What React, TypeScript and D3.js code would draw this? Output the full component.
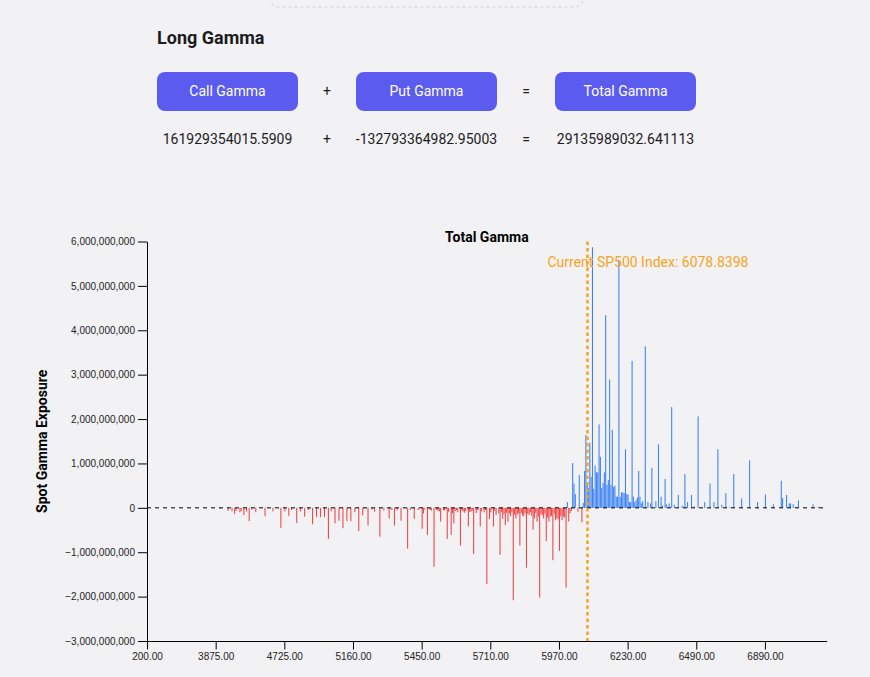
import React, { useEffect, useRef } from "react";
import * as d3 from "d3";

// strikes of the option chain, as [from, to, step] runs
const strikeRuns: [number, number, number][] = [
  [200, 3000, 200],
  [3100, 3650, 50],
  [3750, 3875, 5],
  [3900, 4600, 25],
  [4610, 4620, 10],
  [4625, 4725, 5],
  [4735, 5075, 10],
  [5080, 5160, 5],
  [5170, 5220, 10],
  [5225, 6490, 5],
  [6495, 6610, 5],
  [6620, 6890, 10],
  [6900, 7100, 10],
  [7125, 7500, 25],
  [7600, 8400, 100],
];

const xTickStrikes = [200, 3875, 4725, 5160, 5450, 5710, 5970, 6230, 6490, 6890];

// net gamma per strike, in billions
const putSideGamma: [number, number][] = [
  [3950, -0.02], [4100, -0.07], [4175, -0.08], [4225, -0.14], [4250, -0.07],
  [4325, -0.1], [4350, -0.07], [4400, -0.16], [4450, -0.08], [4500, -0.3],
  [4550, -0.04], [4610, -0.1], [4650, -0.19], [4680, -0.08], [4710, -0.45],
  [4725, -0.08], [4755, -0.18], [4775, -0.05], [4815, -0.34], [4845, -0.08],
  [4875, -0.2], [4905, -0.05], [4935, -0.37], [4965, -0.2], [4995, -0.21],
  [5025, -0.21], [5055, -0.7], [5075, -0.08], [5090, -0.35], [5105, -0.29],
  [5120, -0.46], [5135, -0.3], [5150, -0.3], [5170, -0.1], [5200, -0.52],
  [5225, -0.17], [5245, -0.4], [5260, -0.04], [5270, -0.09], [5290, -0.65],
  [5305, -0.06], [5325, -0.24], [5335, -0.05], [5345, -0.4], [5355, -0.06],
  [5370, -0.29], [5395, -0.92], [5405, -0.05], [5420, -0.25], [5435, -0.05],
  [5450, -0.47], [5455, -0.13], [5460, -0.04], [5470, -0.61], [5480, -0.05],
  [5485, -0.06], [5495, -1.33], [5505, -0.05], [5510, -0.07], [5515, -0.08],
  [5520, -0.31], [5530, -0.05], [5535, -0.06], [5545, -0.7], [5550, -0.09],
  [5560, -0.61], [5565, -0.12], [5570, -0.35], [5575, -0.07], [5580, -0.05],
  [5585, -0.1], [5595, -0.85], [5600, -0.06], [5605, -0.08], [5610, -0.11],
  [5615, -0.07], [5625, -0.42], [5630, -0.09], [5635, -0.09], [5640, -0.06],
  [5645, -1.04], [5655, -0.12], [5660, -0.05], [5670, -0.42], [5675, -0.08],
  [5685, -0.1], [5690, -0.05], [5695, -1.72], [5705, -0.25], [5710, -0.1],
  [5720, -0.42], [5725, -0.07], [5730, -0.16], [5740, -0.12], [5745, -1.06],
  [5750, -0.09], [5755, -0.25], [5760, -0.14], [5765, -0.39], [5770, -0.11],
  [5775, -0.31], [5780, -0.13], [5785, -0.19], [5790, -0.1], [5795, -2.08],
  [5800, -0.15], [5805, -0.24], [5810, -0.16], [5815, -0.12], [5820, -0.85],
  [5825, -0.12], [5830, -0.17], [5835, -0.19], [5840, -0.11], [5845, -1.35],
  [5850, -0.14], [5855, -0.16], [5860, -0.1], [5865, -0.18], [5870, -0.49],
  [5875, -0.24], [5880, -0.12], [5885, -0.31], [5890, -0.2], [5895, -2.02],
  [5900, -0.15], [5905, -0.16], [5910, -0.24], [5915, -0.13], [5920, -0.75],
  [5925, -0.22], [5930, -0.31], [5935, -0.2], [5940, -0.18], [5945, -1.18],
  [5950, -0.14], [5955, -0.28], [5960, -0.24], [5965, -0.26], [5970, -0.97],
  [5975, -0.19], [5980, -0.28], [5985, -0.2], [5990, -0.22], [5995, -1.8],
  [6005, -0.31], [6010, -0.12], [6015, -0.07], [6040, -0.09], [6055, -0.33],
];

const callSideGamma: [number, number][] = [
  [6000, 0.13], [6020, 1.01], [6025, 0.55], [6030, 0.31], [6045, 0.74],
  [6060, 0.11], [6065, 0.83], [6070, 1.64], [6075, 0.55], [6080, 0.45],
  [6085, 1.47], [6090, 0.7], [6095, 5.87], [6100, 0.43], [6105, 0.95],
  [6110, 0.8], [6115, 0.8], [6120, 1.88], [6125, 1.15], [6130, 0.45],
  [6135, 0.56], [6140, 0.8], [6145, 4.34], [6150, 0.52], [6155, 0.63],
  [6160, 2.89], [6165, 0.52], [6170, 1.76], [6175, 0.47], [6180, 0.5],
  [6185, 0.25], [6190, 0.25], [6195, 5.57], [6200, 0.25], [6205, 0.35],
  [6210, 0.35], [6215, 0.33], [6220, 1.32], [6225, 0.31], [6230, 0.3],
  [6235, 0.13], [6240, 0.13], [6245, 3.31], [6250, 0.25], [6255, 0.13],
  [6260, 0.17], [6265, 0.23], [6270, 0.83], [6275, 0.25], [6280, 0.1],
  [6285, 0.15], [6295, 3.64], [6305, 0.13], [6315, 0.1], [6320, 0.9],
  [6335, 0.15], [6345, 1.43], [6355, 0.25], [6360, 0.05], [6370, 0.65],
  [6375, 0.08], [6385, 0.1], [6395, 2.27], [6405, 0.07], [6420, 0.29],
  [6435, 0.05], [6445, 0.76], [6455, 0.13], [6470, 0.29], [6480, 0.03],
  [6495, 2.06], [6520, 0.13], [6540, 0.55], [6555, 0.13], [6570, 1.32],
  [6585, 0.07], [6600, 0.33], [6620, 0.02], [6650, 0.76], [6710, 0.21],
  [6770, 1.07], [6830, 0.13], [6890, 0.3], [6950, 0.08], [7010, 0.61],
  [7020, 0.22], [7050, 0.29], [7070, 0.1], [7080, 0.1], [7100, 0.08],
  [7150, 0.02], [7200, 0.17], [7475, 0.08], [7800, 0.03],
];

const spotPrice = 6078.8398;
const summaryLabels = ["Call Gamma", "Put Gamma", "Total Gamma"];
const summaryValues = ["161929354015.5909", "-132793364982.95003", "29135989032.641113"];
const summaryOps = ["+", "="];

const TEXT = "#1c1c1c";
const BUTTON = "#5b5bf0";

const GammaChart = () => {
  const chartRef = useRef<SVGGElement>(null);

  useEffect(() => {
    const g = d3.select(chartRef.current);
    g.selectAll("*").remove();

    const left = 147;
    const right = 826.7;
    const top = 241.5;
    const bottom = 641;

    const strikes = strikeRuns.flatMap(([a, b, s]) => d3.range(a, b + s / 2, s));
    const bars = [...putSideGamma, ...callSideGamma].map(([strike, bn]) => ({
      strike,
      value: bn * 1e9,
    }));

    const x = d3.scaleBand<number>().domain(strikes).range([left, right]).paddingInner(0.2);
    const y = d3
      .scaleLinear()
      .domain(d3.extent(bars, (d) => d.value) as [number, number])
      .nice()
      .range([bottom, top]);

    // bars
    g.append("g")
      .selectAll("rect")
      .data(bars.filter((d) => x(d.strike) !== undefined))
      .join("rect")
      .attr("x", (d) => x(d.strike)!)
      .attr("width", x.bandwidth())
      .attr("y", (d) => y(Math.max(0, d.value)))
      .attr("height", (d) => Math.abs(y(d.value) - y(0)))
      .attr("fill", (d) => (d.value < 0 ? "#ef4444" : "#3b82f6"));

    // zero line
    g.append("line")
      .attr("x1", left)
      .attr("x2", right)
      .attr("y1", y(0))
      .attr("y2", y(0))
      .attr("stroke", "#000")
      .attr("stroke-dasharray", "4,4");

    const styleAxis = (sel: any) => {
      sel.attr("font-family", "'Liberation Sans', Arial, sans-serif").attr("font-size", 10);
      sel.selectAll("text").attr("fill", "#222");
    };

    g.append("g")
      .attr("transform", `translate(0,${bottom})`)
      .call(
        d3
          .axisBottom(x)
          .tickValues(xTickStrikes)
          .tickFormat((d) => d.toFixed(2))
          .tickSize(8.5)
          .tickSizeOuter(0)
      )
      .call(styleAxis);

    g.append("g")
      .attr("transform", `translate(${left},0)`)
      .call(d3.axisLeft(y).ticks(10).tickFormat(d3.format(",")).tickSize(9).tickSizeOuter(0))
      .call(styleAxis);

    // current index marker
    const spotStrike = strikes[d3.minIndex(strikes, (s) => Math.abs(s - spotPrice))];
    const spotX = x(spotStrike)! - 0.5;
    g.append("line")
      .attr("x1", spotX)
      .attr("x2", spotX)
      .attr("y1", top)
      .attr("y2", bottom)
      .attr("stroke", "#f9a31b")
      .attr("stroke-width", 2.5)
      .attr("stroke-dasharray", "3.5,3");

    g.append("text")
      .attr("x", spotX - 40)
      .attr("y", 267)
      .attr("fill", "#f9a31b")
      .attr("font-size", 14)
      .text(`Current SP500 Index: ${spotPrice}`);

    g.append("text")
      .attr("x", (left + right) / 2)
      .attr("y", 242)
      .attr("text-anchor", "middle")
      .attr("font-size", 14)
      .attr("font-weight", 700)
      .attr("fill", "#000")
      .text("Total Gamma");

    g.append("text")
      .attr("transform", `translate(47,${(top + bottom) / 2}) rotate(-90)`)
      .attr("text-anchor", "middle")
      .attr("font-size", 14)
      .attr("font-weight", 700)
      .attr("fill", "#000")
      .text("Spot Gamma Exposure");
  }, []);

  return <g ref={chartRef} />;
};

export default function App() {
  return (
    <div style={{ position: "fixed", inset: 0, background: "#f2f2f5" }}>
      <svg
        width={870}
        height={677}
        style={{ position: "absolute", left: 0, top: 0, fontFamily: "Roboto, sans-serif" }}
      >
        <rect
          x={270.5}
          y={-40}
          width={312.5}
          height={47}
          rx={8}
          fill="none"
          stroke="#cfcfd5"
          strokeDasharray="3,3"
        />
        <text x={157} y={44} fontSize={18} fontWeight={700} fill={TEXT}>
          Long Gamma
        </text>
        {summaryLabels.map((label, i) => (
          <g key={label} transform={`translate(${157 + i * 199},72)`}>
            <rect width={141} height={39} rx={8} fill={BUTTON} />
            <text x={70.5} y={24} textAnchor="middle" fill="#fff" fontSize={14}>
              {label}
            </text>
            <text x={70.5} y={72} textAnchor="middle" fill={TEXT} fontSize={14}>
              {summaryValues[i]}
            </text>
          </g>
        ))}
        {summaryOps.map((op, i) => (
          <g key={op} transform={`translate(${327 + i * 199},0)`}>
            <text y={96} textAnchor="middle" fill={TEXT} fontSize={14}>
              {op}
            </text>
            <text y={144} textAnchor="middle" fill={TEXT} fontSize={14}>
              {op}
            </text>
          </g>
        ))}
        <GammaChart />
      </svg>
    </div>
  );
}
